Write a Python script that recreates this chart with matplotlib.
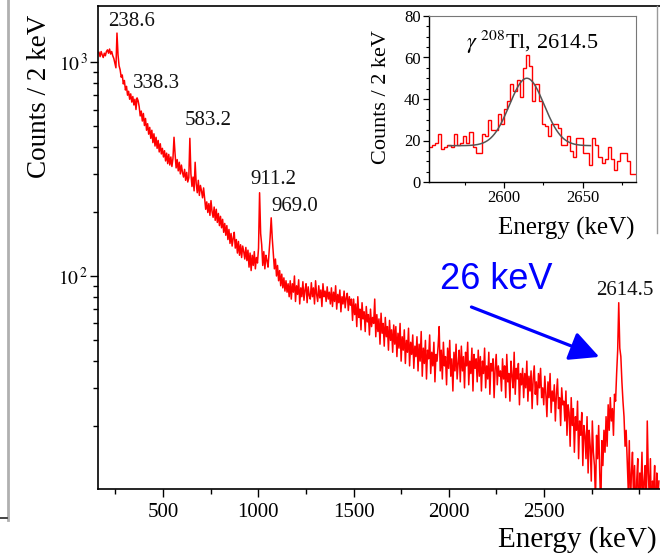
import numpy as np
import matplotlib
matplotlib.use("Agg")
import matplotlib.pyplot as plt
from matplotlib.ticker import FixedLocator, FuncFormatter, NullFormatter, MultipleLocator
from matplotlib.lines import Line2D

plt.rcParams["font.family"] = ["Liberation Serif", "DejaVu Serif"]
plt.rcParams["mathtext.fontset"] = "stix"

# ---------------- main spectrum: counts per 2 keV, sampled every 5 keV -------------
e_start = 153.2
e_step = 5.0
counts = [
    1110, 1060, 1120, 1080, 1050, 1100, 1070, 1120, 1140, 1100, 1150, 1090, 1120, 1070, 1040, 990, 940, 1366, 1080, 960,
    920, 850, 870, 790, 820, 740, 770, 700, 730, 670, 710, 650, 690, 630, 670, 600, 680, 660, 620, 560,
    590, 530, 575, 505, 545, 480, 515, 460, 495, 440, 480, 420, 462, 405, 445, 395, 430, 380, 415, 372,
    395, 360, 385, 345, 375, 335, 370, 330, 360, 325, 355, 445, 372, 320, 350, 310, 340, 300, 330, 305,
    290, 315, 280, 305, 275, 288, 440, 300, 262, 290, 250, 340, 270, 245, 280, 238, 265, 250, 232, 258,
    230, 205, 222, 198, 218, 192, 225, 200, 188, 210, 182, 205, 178, 196, 172, 190, 168, 184, 160, 176,
    155, 172, 148, 165, 142, 158, 138, 150, 160, 135, 148, 128, 145, 125, 140, 122, 138, 130, 120, 136,
    118, 132, 110, 128, 106, 125, 112, 130, 108, 122, 115, 135, 245, 158, 140, 112, 130, 108, 125, 118,
    110, 130, 152, 187, 150, 128, 108, 120, 100, 112, 95, 106, 90, 102, 88, 98, 85, 95, 84, 92,
    80, 95, 78, 92, 84, 100, 76, 90, 82, 96, 74, 88, 80, 94, 77, 86, 92, 75, 89, 81,
    78, 93, 80, 88, 74, 95, 82, 76, 90, 79, 86, 72, 92, 80, 85, 76, 89, 78, 84, 74,
    88, 72, 84, 76, 90, 70, 82, 75, 86, 68, 80, 74, 85, 71, 79, 83, 69, 80, 73, 78,
    62, 78, 66, 74, 58, 80, 64, 70, 56, 75, 63, 68, 55, 72, 61, 66, 53, 70, 58, 64,
    60, 78, 52, 66, 55, 63, 48, 67, 54, 60, 47, 64, 52, 58, 45, 62, 50, 56, 44, 59,
    48, 58, 42, 54, 46, 60, 40, 52, 45, 56, 39, 50, 44, 57, 38, 49, 43, 53, 37, 47,
    42, 52, 36, 48, 40, 55, 34, 46, 39, 50, 33, 45, 41, 53, 35, 44, 38, 49, 32, 43,
    40, 47, 58, 36, 45, 33, 49, 38, 42, 31, 46, 37, 50, 34, 41, 29, 44, 36, 48, 33,
    39, 45, 32, 47, 36, 42, 30, 44, 38, 49, 31, 40, 35, 46, 29, 43, 37, 41, 32, 45,
    34, 42, 29, 40, 35, 46, 30, 38, 33, 44, 28, 39, 36, 41, 27, 37, 43, 31, 38, 34,
    36, 29, 41, 33, 38, 27, 43, 32, 35, 26, 40, 34, 30, 44, 28, 37, 33, 39, 25, 35,
    31, 37, 27, 35, 30, 40, 26, 34, 29, 36, 24, 33, 38, 28, 32, 25, 35, 30, 37, 27,
    30, 25, 34, 28, 22, 32, 27, 35, 23, 29, 26, 31, 21, 28, 33, 24, 27, 20, 30, 25,
    26, 21, 29, 18, 25, 23, 16, 27, 20, 24, 15, 22, 19, 26, 14, 21, 18, 23, 13, 20,
    18, 14, 22, 12, 19, 16, 11, 21, 15, 13, 9, 18, 14, 20, 12, 8, 17, 13, 19, 15,
    22, 16, 25, 19, 27, 21, 24, 18, 28, 26, 35, 45, 75, 46, 42, 32, 26, 22, 16, 19,
    14, 10, 17, 8, 12, 15, 9, 13, 7, 11, 14, 6, 12, 10, 15, 8, 11, 13, 7, 21,
    12, 9, 14, 7, 11, 10, 13, 6, 12, 9, 11,
]
energy = e_start + e_step * np.arange(len(counts))

# the histogram is drawn on the uncalibrated (raw) linear energy scale
raw_gain = 1.1086
raw_offset = -5.5


def to_raw(e):
    return raw_gain * np.asarray(e) + raw_offset


# labelled lines: energy (keV) and the count at the line top
peak_energies = [238.6, 338.3, 583.2, 911.2, 969.0, 2614.5]
peak_tops = [1366, 640, 440, 245, 187, 75]
# label offsets from the line top (points)
peak_label_dx = [-6.5, -3.6, -3.6, -6.5, 0.0, -16.5]
peak_label_dy = [8.6, 14.4, 13.0, 9.4, 8.0, 8.6]

# ---------------- inset: 2 keV bins around the 208Tl line ----------------
inset_start = 2552
inset_bin = 2
inset_counts = [
    17, 18, 19, 23, 16, 17, 18, 17, 23, 18, 19, 22, 19, 24, 17, 14, 14, 23, 22, 30,
    25, 25, 33, 28, 35, 39, 47, 44, 49, 41, 55, 61, 56, 39, 47, 39, 28, 27, 22, 28,
    28, 26, 18, 18, 22, 15, 12, 21, 21, 14, 14, 8, 21, 18, 12, 9, 11, 17, 11, 6,
    10, 14, 14, 10, 4, 4,
]
inset_edges = inset_start + inset_bin * np.arange(len(inset_counts) + 1)

# Gaussian + flat background fit
fit_mean = 2614.5
fit_sigma = 11.0
fit_amp = 32.5
fit_bkg = 17.5
fit_range = (2565, 2655)

# ---------------- figure ----------------
W, H = 660, 556
fig = plt.figure(figsize=(W / 100, H / 100), dpi=100)


def fx(px):
    return px / W


def fy(py):
    return 1 - py / H


ax = fig.add_axes([fx(98), fy(489), fx(660 - 98), (489 - 6) / H])
ax.plot(to_raw(energy), counts, color="#ff0000", lw=1.1)
ax.set_yscale("log")
ax.set_xlim(159, 3108)
ax.set_ylim(10.1, 1828)

ax.xaxis.set_major_locator(FixedLocator([500, 1000, 1500, 2000, 2500]))
ax.xaxis.set_minor_locator(FixedLocator([250, 750, 1250, 1750, 2250, 2750, 3000]))
ax.yaxis.set_major_locator(FixedLocator([100, 1000]))
ax.yaxis.set_minor_locator(FixedLocator([20, 30, 40, 50, 60, 70, 80, 90,
                                         200, 300, 400, 500, 600, 700, 800, 900]))
ax.yaxis.set_minor_formatter(NullFormatter())
ax.yaxis.set_major_formatter(FuncFormatter(lambda v, _: r"$10^{\,%d}$" % round(np.log10(v))))
ax.tick_params(axis="both", which="major", length=6, width=1.0, direction="out", labelsize=14)
ax.tick_params(axis="both", which="minor", length=3.5, width=1.0, direction="out")
ax.tick_params(axis="x", pad=4, labelsize=15)
ax.tick_params(axis="y", pad=1)
for s in ["left", "bottom", "top"]:
    ax.spines[s].set_linewidth(1.2)
ax.spines["right"].set_visible(False)

for e, top, dx, dy in zip(peak_energies, peak_tops, peak_label_dx, peak_label_dy):
    ax.annotate(f"{e:.1f}", xy=(to_raw(e), top), xytext=(dx, dy), textcoords="offset points",
                ha="left", va="center", fontsize=15, color="#111111")

# FWHM callout
ax.annotate("", xy=(2803, 41.4), xytext=(2105, 72.4),
            arrowprops=dict(arrowstyle="-|>,head_length=0.9,head_width=0.45",
                            color="#0000ff", lw=2.3, mutation_scale=20))
ax.text(2247, 95.8, "26 keV", color="#0000ff", fontsize=26, family="Liberation Sans",
        ha="center", va="center")

fig.text(fx(40), fy(15), "Counts / 2 keV", rotation=90, ha="center", va="top", fontsize=19.5)
fig.text(fx(657), fy(540), "Energy (keV)", ha="right", va="center", fontsize=21)

# ---------------- inset ----------------
axi = fig.add_axes([fx(429), fy(182), fx(636 - 429), (182 - 16) / H])
axi.stairs(inset_counts, inset_edges, color="#ff0000", lw=1.0, baseline=None)
xf = np.linspace(fit_range[0], fit_range[1], 300)
yf = fit_bkg + fit_amp * np.exp(-0.5 * ((xf - fit_mean) / fit_sigma) ** 2)
axi.plot(xf, yf, color="#555555", lw=1.1)
axi.set_xlim(2552.3, 2683.9)
axi.set_ylim(0, 80)
axi.xaxis.set_major_locator(FixedLocator([2600, 2650]))
axi.xaxis.set_minor_locator(FixedLocator([2575, 2625, 2675]))
axi.yaxis.set_major_locator(MultipleLocator(20))
axi.yaxis.set_minor_locator(MultipleLocator(5))
axi.tick_params(axis="both", which="major", length=4, width=0.9, direction="out", labelsize=12, pad=2)
axi.tick_params(axis="both", which="minor", length=2.2, width=0.8, direction="out")
for s in ["left", "bottom"]:
    axi.spines[s].set_linewidth(1.0)
for s in ["top", "right"]:
    axi.spines[s].set_linewidth(0.8)
    axi.spines[s].set_color("#777777")
axi.text(0.5, 0.84, r"$\gamma\ ^{208}$Tl, 2614.5", transform=axi.transAxes,
         ha="center", va="center", fontsize=16)
fig.text(fx(382), fy(30), "Counts / 2 keV", rotation=90, ha="center", va="top", fontsize=16)
fig.text(fx(634), fy(228), "Energy (keV)", ha="right", va="center", fontsize=18)

# inset pad border (right edge)
fig.add_artist(Line2D([fx(657), fx(657)], [fy(6), fy(233)], color="#9a9a9a", lw=1.0))

# neighbouring panel edge
fig.add_artist(Line2D([fx(7.5), fx(7.5)], [fy(0), fy(520)], color="#b0b0b0", lw=2))
fig.add_artist(Line2D([fx(0), fx(7)], [fy(518), fy(518)], color="#222222", lw=1.2))

fig.savefig("out.png", dpi=100)
